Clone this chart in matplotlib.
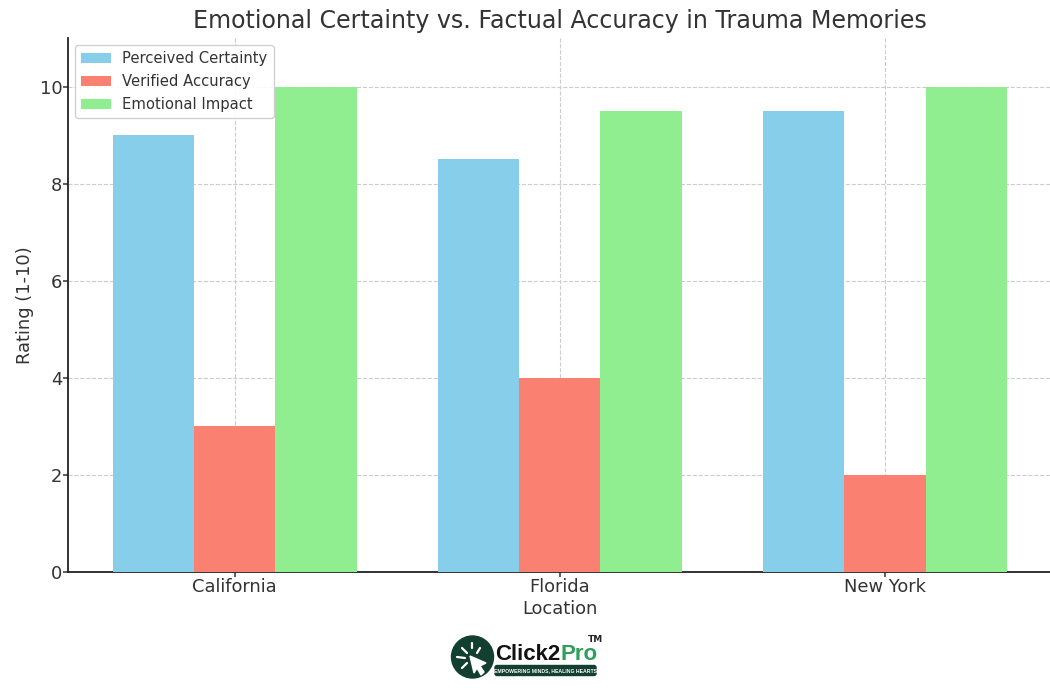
import numpy as np
import matplotlib

matplotlib.use("Agg")
import matplotlib.pyplot as plt
from matplotlib.patches import Circle, FancyBboxPatch, Polygon

locations = ["California", "Florida", "New York"]
certainty = [9, 8.5, 9.5]
accuracy = [3, 4, 2]
impact = [10, 9.5, 10]
y_ticks = [0, 2, 4, 6, 8, 10]

W, H = 1050, 700
TEXT = "#333333"

fig = plt.figure(figsize=(W / 100, H / 100), dpi=100)
ax = fig.add_axes([68 / W, 1 - 572 / H, (1051.6 - 68) / W, (572 - 38) / H])

x = np.arange(len(locations))
width = 0.25
ax.bar(x - width, certainty, width, color="skyblue", label="Perceived Certainty", zorder=3)
ax.bar(x, accuracy, width, color="salmon", label="Verified Accuracy", zorder=3)
ax.bar(x + width, impact, width, color="lightgreen", label="Emotional Impact", zorder=3)

ax.set_xlim(-0.5125, 2.5125)
ax.set_ylim(0, 11)
ax.set_xticks(x)
ax.set_xticklabels(locations)
ax.set_yticks(y_ticks)
ax.tick_params(labelsize=12.9, colors=TEXT, length=3.5, width=1.1, pad=0.5)
ax.set_xlabel("Location", fontsize=12.9, color=TEXT, labelpad=3.5)
ax.set_ylabel("Rating (1-10)", fontsize=12.9, color=TEXT, labelpad=4)
ax.set_title("Emotional Certainty vs. Factual Accuracy in Trauma Memories",
             fontsize=17.1, color=TEXT, pad=7)
ax.grid(True, linestyle="--", linewidth=0.8, color="#cccccc", zorder=0)
ax.spines["top"].set_visible(False)
ax.spines["right"].set_visible(False)
for side in ["left", "bottom"]:
    ax.spines[side].set_linewidth(1.3)
    ax.spines[side].set_color("#222222")

leg = ax.legend(loc="upper left", fontsize=10.6, labelcolor=TEXT, borderaxespad=0.5,
                bbox_to_anchor=(0.0, 1.0), handlelength=2.05, handletextpad=0.75,
                labelspacing=0.55)
leg.get_frame().set_alpha(0.9)
leg.set_zorder(5)

# logo, in a pixel-coordinate overlay
logo = fig.add_axes([0, 0, 1, 1], facecolor="none")
logo.set_xlim(0, W)
logo.set_ylim(H, 0)
logo.axis("off")
DARK = "#123f2f"
logo.add_patch(Circle((472.5, 657), 21, color=DARK))
logo.add_patch(Polygon([(470, 656), (486, 663), (480, 666), (484, 672), (481, 675),
                        (477, 668), (474, 673)], closed=True, color="white"))
for x0, y0, x1, y1 in [(472, 643, 472, 648), (462, 648, 467, 653), (457, 657, 465, 658),
                       (480, 648, 477, 653), (462, 668, 467, 663)]:
    logo.plot([x0, x1], [y0, y1], color="white", lw=1.6, solid_capstyle="round")
t1 = logo.text(495, 654, "Click2", fontsize=16, fontweight="bold", color="#111111",
               va="center", ha="left", family="Liberation Sans")
logo.annotate("Pro", xy=(1, 0.5), xycoords=t1, xytext=(0, 0), textcoords="offset points",
              fontsize=16, fontweight="bold", color="#2e9e5b", va="center", ha="left",
              family="Liberation Sans")
logo.text(595, 639, "TM", fontsize=6.5, fontweight="bold", color="#222222", ha="center", va="center")
logo.add_patch(FancyBboxPatch((495, 665.5), 101, 10, boxstyle="round,pad=0,rounding_size=2",
                              color=DARK))
logo.text(545.5, 670.5, "EMPOWERING MINDS, HEALING HEARTS", fontsize=3.7, fontweight="bold",
          color="white", ha="center", va="center", family="Liberation Sans")

fig.savefig("out.png", dpi=100)
plt.close(fig)
